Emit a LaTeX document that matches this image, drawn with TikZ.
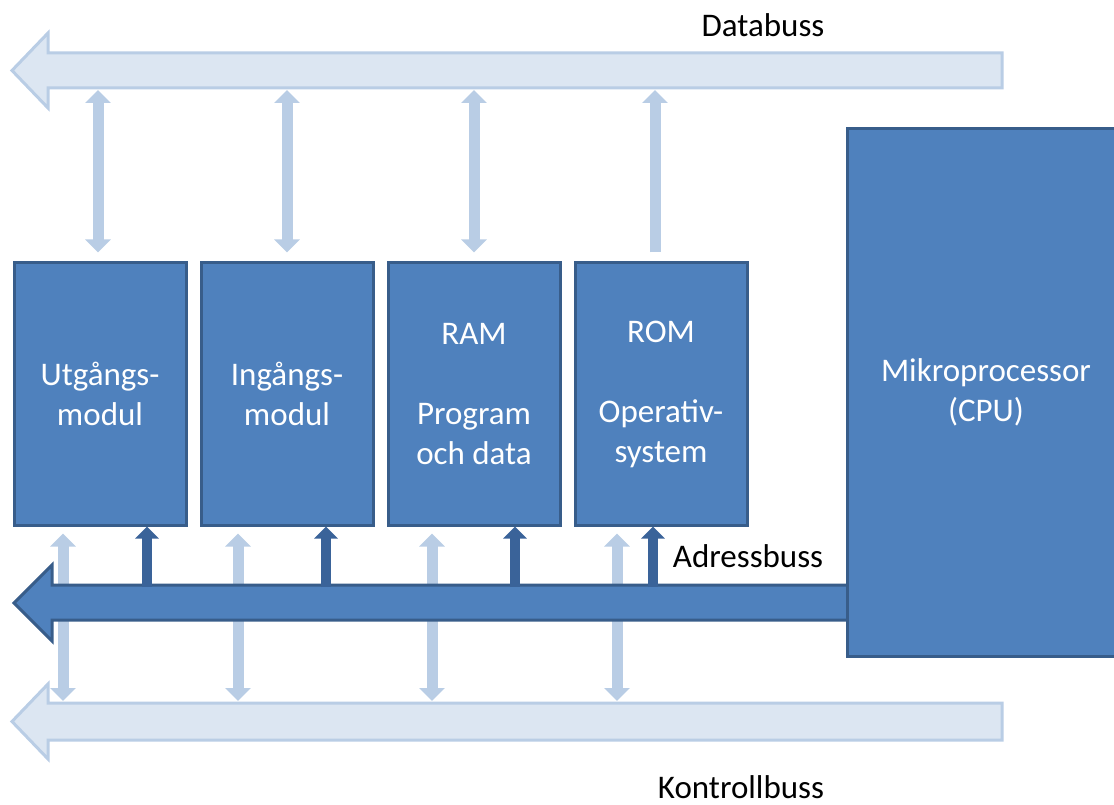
\documentclass[tikz,border=0pt]{standalone}
\usepackage{fontspec}
\setmainfont{Carlito}
\usetikzlibrary{arrows.meta}
\definecolor{boxfill}{HTML}{4F81BD}
\definecolor{boxline}{HTML}{385D8A}
\definecolor{lightfill}{HTML}{DCE6F2}
\definecolor{lightline}{HTML}{B9CDE5}
\definecolor{darkarrow}{HTML}{3A6399}
\begin{document}
\begin{tikzpicture}[x=1pt,y=-1pt,
  module/.style={draw=boxline, fill=boxfill, line width=3pt, minimum width=172pt,
    minimum height=262pt, text=white, font=\fontsize{33}{40}\selectfont, align=center, inner sep=0pt},
  cpubox/.style={module, minimum width=277pt, minimum height=527pt},
  lbl/.style={font=\fontsize{33}{40}\selectfont, text=black, inner sep=0pt},
  lightbus/.style={draw=lightline, fill=lightfill, line width=3pt, line join=miter},
  darkbus/.style={draw=boxline, fill=boxfill, line width=3pt, line join=miter},
  lightarr/.style={draw=lightline, line width=11pt, >={Triangle[width=25pt,length=13pt]}},
  darkarr/.style={draw=darkarrow, line width=10pt, >={Triangle[width=23pt,length=12pt]}}
]
\useasboundingbox (0,0) rectangle (1114,805);

% light buses
\draw[lightbus] (1002,53) -- (48,53) -- (48,33) -- (12,70.5) -- (48,108) -- (48,88) -- (1002,88) -- cycle;
\draw[lightbus] (1002,703) -- (48,703) -- (48,684) -- (12,721.5) -- (48,759) -- (48,740) -- (1002,740) -- cycle;

\coordinate (dbBottom) at (0,90);
\coordinate (kbTop) at (0,701);
\coordinate (abTop) at (0,587);

% modules
\node[module] (utg) at (100,394) {Utgångs-\\modul};
\node[module] (ing) at (287,394) {Ingångs-\\modul};
\node[module] (ram) at (474,394) {RAM\\[40pt]Program\\och data};
\node[module] (rom) at (661,394) {ROM\\[40pt]Operativ-\\system};

% control bus connectors (behind the address bus)
\draw[lightarr,<->] ([xshift=-37pt,yshift=-7pt]utg.south) -- ([xshift=-37pt]utg.south |- kbTop);
\draw[lightarr,<->] ([xshift=-49pt,yshift=-7pt]ing.south) -- ([xshift=-49pt]ing.south |- kbTop);
\draw[lightarr,<->] ([xshift=-42pt,yshift=-7pt]ram.south) -- ([xshift=-42pt]ram.south |- kbTop);
\draw[lightarr,<->] ([xshift=-44pt,yshift=-7pt]rom.south) -- ([xshift=-44pt]rom.south |- kbTop);

% address bus
\draw[darkbus] (860,585) -- (52,585) -- (52,565) -- (14,603) -- (52,641) -- (52,620) -- (860,620) -- cycle;

\node[cpubox] (cpu) at (986,392.5) {Mikroprocessor\\(CPU)};

% data bus connectors
\draw[lightarr,<->] ([xshift=-2pt,yshift=9pt]utg.north) -- ([xshift=-2pt]utg.north |- dbBottom);
\draw[lightarr,<->] ([yshift=9pt]ing.north) -- (ing.north |- dbBottom);
\draw[lightarr,<->] ([yshift=9pt]ram.north) -- (ram.north |- dbBottom);
\draw[lightarr,->] ([xshift=-6pt,yshift=9pt]rom.north) -- ([xshift=-6pt]rom.north |- dbBottom);

% address bus connectors
\draw[darkarr,->] ([xshift=47pt]utg.south |- abTop) -- ([xshift=47pt]utg.south);
\draw[darkarr,->] ([xshift=39pt]ing.south |- abTop) -- ([xshift=39pt]ing.south);
\draw[darkarr,->] ([xshift=41pt]ram.south |- abTop) -- ([xshift=41pt]ram.south);
\draw[darkarr,->] ([xshift=-8pt]rom.south |- abTop) -- ([xshift=-8pt]rom.south);

% labels
\node[lbl] (dblbl) at (763,25) {Databuss};
\node[lbl] (ablbl) at (748,556) {Adressbuss};
\node[lbl] (kblbl) at (741,787) {Kontrollbuss};
\end{tikzpicture}
\end{document}
